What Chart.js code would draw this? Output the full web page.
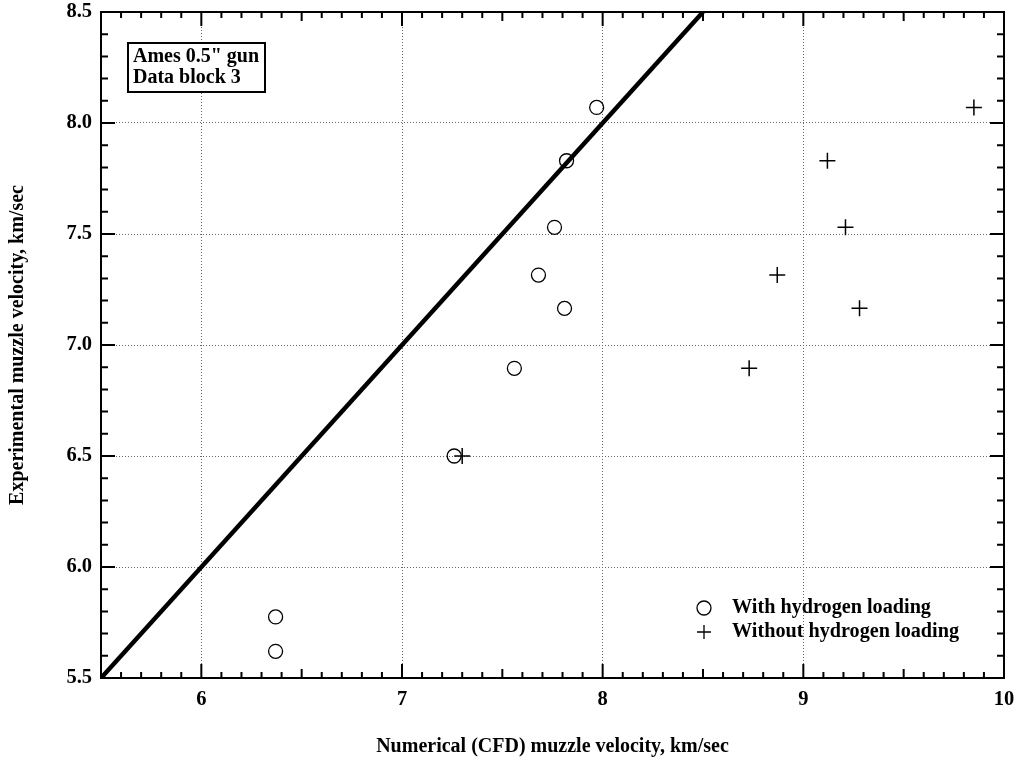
<!DOCTYPE html>
<html>
<head>
<meta charset="utf-8">
<script src="https://cdn.jsdelivr.net/npm/chart.js@4/dist/chart.umd.min.js"></script>
<style>
  html, body { margin: 0; padding: 0; background: #fff; }
  canvas { display: block; }
</style>
</head>
<body>
<canvas id="chart" width="1021" height="763"></canvas>
<script>
// Data
const withH2X    = [7.97, 7.82, 7.76, 7.68, 7.81, 7.56, 7.26, 6.37, 6.37];
const withH2Y    = [8.07, 7.83, 7.53, 7.315, 7.165, 6.895, 6.50, 5.775, 5.62];
const withoutH2X = [9.85, 9.12, 9.21, 8.87, 9.28, 8.73, 7.30];
const withoutH2Y = [8.07, 7.83, 7.53, 7.315, 7.165, 6.895, 6.50];
const equalLine  = [5.5, 8.5];   // y = x reference line endpoints

const X_MIN = 5.5, X_MAX = 10;
const Y_MIN = 5.5, Y_MAX = 8.5;

const SERIF = '"Liberation Serif", "Times New Roman", serif';
const font = size => ({ family: SERIF, size, weight: 'bold' });

const toPts = (xs, ys) => xs.map((x, i) => ({ x, y: ys[i] }));

// ── Inside ticks, frame, annotation box and legend ─────────────
const decorPlugin = {
  id: 'decor',
  afterDatasetsDraw(chart) {
    const { ctx, chartArea: a, scales: { x, y } } = chart;
    ctx.save();
    ctx.strokeStyle = '#000';
    ctx.lineWidth = 2;

    // x ticks every 0.1, longer at .5 and integers
    for (let i = 0; i <= Math.round((X_MAX - X_MIN) * 10); i++) {
      const v = X_MIN + i / 10;
      const px = x.getPixelForValue(v);
      const r = Math.round(v * 10);
      const len = r % 10 === 0 ? 14 : (r % 5 === 0 ? 9 : 6);
      ctx.beginPath();
      ctx.moveTo(px, a.bottom); ctx.lineTo(px, a.bottom - len);
      ctx.moveTo(px, a.top);    ctx.lineTo(px, a.top + len);
      ctx.stroke();
    }
    // y ticks every 0.1, longer at 0.5
    for (let i = 0; i <= Math.round((Y_MAX - Y_MIN) * 10); i++) {
      const v = Y_MIN + i / 10;
      const py = y.getPixelForValue(v);
      const len = Math.round(v * 10) % 5 === 0 ? 14 : 7;
      ctx.beginPath();
      ctx.moveTo(a.left, py);  ctx.lineTo(a.left + len, py);
      ctx.moveTo(a.right, py); ctx.lineTo(a.right - len, py);
      ctx.stroke();
    }
    // frame
    ctx.strokeRect(a.left, a.top, a.right - a.left, a.bottom - a.top);

    // annotation box
    ctx.lineWidth = 2;
    ctx.fillStyle = '#fff';
    ctx.fillRect(128, 43, 137, 49);
    ctx.strokeRect(128, 43, 137, 49);
    ctx.fillStyle = '#000';
    ctx.font = `bold 20px ${SERIF}`;
    ctx.textBaseline = 'middle';
    ctx.textAlign = 'left';
    ctx.fillText('Ames 0.5" gun', 133, 57);
    ctx.fillText('Data block 3', 133, 78);

    // legend
    ctx.font = `bold 20.2px ${SERIF}`;
    const legend = [
      { style: 'circle', label: 'With hydrogen loading',    y: 608 },
      { style: 'cross',  label: 'Without hydrogen loading', y: 632 },
    ];
    legend.forEach(item => {
      ctx.lineWidth = 1.3;
      ctx.strokeStyle = '#000';
      ctx.fillStyle = 'rgba(0,0,0,0)';
      Chart.helpers.drawPoint(ctx, { pointStyle: item.style, radius: 7, borderWidth: 1.3 }, 704, item.y);
      ctx.fillStyle = '#000';
      ctx.fillText(item.label, 732, item.y);
    });
    ctx.restore();
  },
};

new Chart(document.getElementById('chart'), {
  type: 'scatter',
  data: {
    datasets: [
      {
        label: 'y = x',
        data: toPts(equalLine, equalLine),
        showLine: true,
        borderColor: '#000',
        borderWidth: 4.5,
        pointRadius: 0,
        fill: false,
      },
      {
        label: 'With hydrogen loading',
        data: toPts(withH2X, withH2Y),
        pointStyle: 'circle',
        pointRadius: 7,
        pointBorderWidth: 1.3,
        borderColor: '#000',
        backgroundColor: 'rgba(0,0,0,0)',
      },
      {
        label: 'Without hydrogen loading',
        data: toPts(withoutH2X, withoutH2Y),
        pointStyle: 'cross',
        pointRadius: 8,
        pointBorderWidth: 1.5,
        borderColor: '#000',
        backgroundColor: '#000',
      },
    ],
  },
  options: {
    responsive: false,
    animation: false,
    events: [],
    layout: { padding: { top: 12, right: 17, left: 0, bottom: 0 } },
    plugins: {
      legend: { display: false },
      tooltip: { enabled: false },
    },
    scales: {
      x: {
        type: 'linear',
        min: X_MIN,
        max: X_MAX,
        afterFit: s => { s.height = 85; s.paddingLeft = 0; s.paddingRight = 0; },
        ticks: {
          stepSize: 1,
          color: '#000',
          font: font(20.5),
          padding: 9,
          maxRotation: 0,
          callback: v => (v % 1 === 0 ? String(v) : ''),
        },
        grid: { color: '#666', lineWidth: 1, drawTicks: false },
        border: { display: false, dash: [1, 2] },
        title: {
          display: true,
          text: 'Numerical (CFD) muzzle velocity, km/sec',
          color: '#000',
          font: font(20),
          padding: { top: 24 },
        },
      },
      y: {
        type: 'linear',
        min: Y_MIN,
        max: Y_MAX,
        afterFit: s => { s.width = 101; s.paddingTop = 0; s.paddingBottom = 0; },
        ticks: {
          stepSize: 0.5,
          color: '#000',
          font: font(20.5),
          padding: 9,
          callback: v => v.toFixed(1),
        },
        grid: { color: '#666', lineWidth: 1, drawTicks: false },
        border: { display: false, dash: [1, 2] },
        title: {
          display: true,
          text: 'Experimental muzzle velocity, km/sec',
          color: '#000',
          font: font(20),
          padding: { top: 6 },
        },
      },
    },
  },
  plugins: [decorPlugin],
});
</script>
</body>
</html>
